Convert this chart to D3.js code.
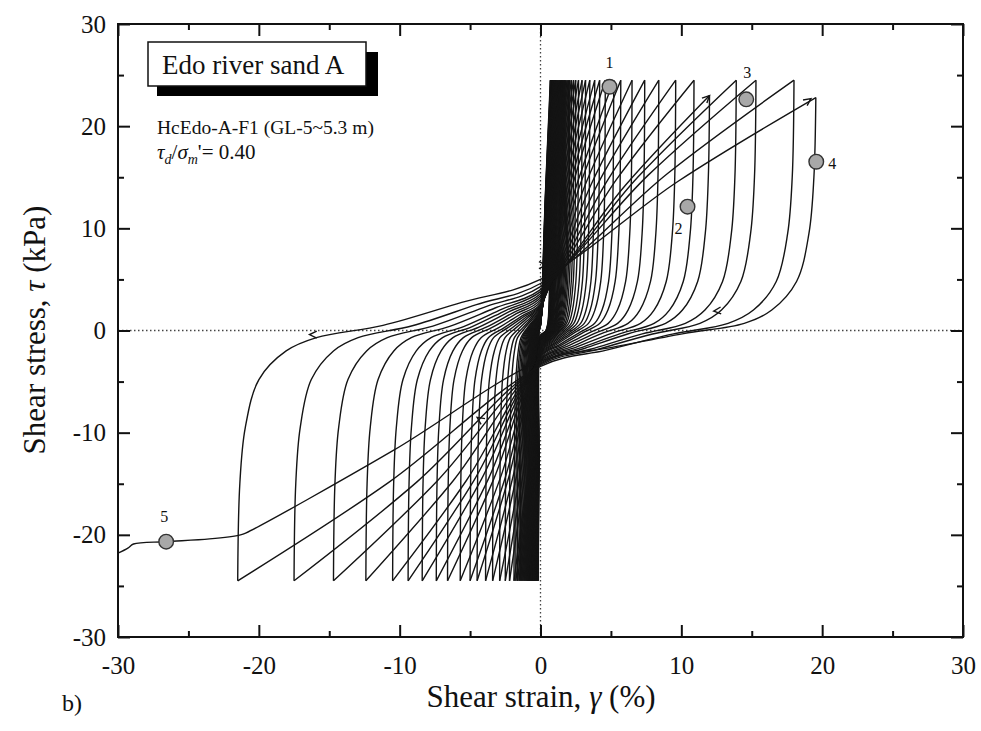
<!DOCTYPE html>
<html><head><meta charset="utf-8">
<script src="https://cdn.jsdelivr.net/npm/d3@7/dist/d3.min.js"></script>
<style>
body{margin:0;background:#fff}
svg{display:block}
</style>
</head><body>
<svg id="c" width="981" height="731"></svg>
<script>
// ---------- data ----------
const xTicks = [-30,-20,-10,0,10,20,30];
const yTicks = [-30,-20,-10,0,10,20,30];
const minorTicks = [-25,-15,-5,5,15,25];

// strain (%) at each negative stress peak, in loading order
const negPeaks = [-0.15,-0.18,-0.21,-0.24,-0.27,-0.30,-0.32,-0.34,-0.36,-0.38,
  -0.40,-0.42,-0.45,-0.48,-0.50,-0.53,-0.56,-0.60,-0.64,-0.68,
  -0.72,-0.76,-0.81,-0.86,-0.91,-0.97,-1.03,-1.10,-1.17,-1.25,-1.33,-1.42,-1.52,-1.63,-1.75,-1.88,
  -2.2,-2.5,-2.9,-3.4,-3.9,-4.5,-5.0,-5.7,-6.6,-7.4,
  -8.4,-9.4,-10.5,-12.4,-14.7,-17.5,-21.5];
const negPeakStress = [-24.5,-24.5,-24.5,-24.5,-24.5,-24.5,-24.5,-24.5,-24.5,-24.5,
  -24.5,-24.5,-24.5,-24.5,-24.5,-24.5,-24.5,-24.5,-24.5,-24.5,
  -24.5,-24.5,-24.5,-24.5,-24.5,-24.5,-24.5,-24.5,-24.5,-24.5,-24.5,-24.5,-24.5,-24.5,-24.5,-24.5,
  -24.5,-24.5,-24.5,-24.5,-24.5,-24.5,-24.5,-24.5,-24.5,-24.5,
  -24.5,-24.5,-24.5,-24.5,-24.5,-24.5,-24.5];
// strain (%) at each positive stress peak
const posPeaks = [0.70,0.72,0.74,0.76,0.78,0.80,0.82,0.84,0.86,0.88,
  0.90,0.92,0.95,0.98,1.01,1.05,1.09,1.14,1.20,1.27,
  1.33,1.38,1.44,1.50,1.57,1.64,1.72,1.80,1.89,1.98,2.08,2.2,2.35,2.5,2.7,2.95,
  3.2,3.5,3.85,4.2,4.6,5.2,5.7,6.5,7.4,8.4,
  9.6,10.9,12.0,13.9,15.3,18.0,19.55];
const posPeakStress = [24.5,24.5,24.5,24.5,24.5,24.5,24.5,24.5,24.5,24.5,
  24.5,24.5,24.5,24.5,24.5,24.5,24.5,24.5,24.5,24.5,
  24.5,24.5,24.5,24.5,24.5,24.5,24.5,24.5,24.5,24.5,24.5,24.5,24.5,24.5,24.5,24.5,
  24.5,24.5,24.5,24.5,24.5,24.5,24.5,24.5,24.5,24.5,
  24.5,24.5,23.0,24.5,24.5,24.5,22.8];
// stress where each branch crosses zero strain
const upCross = [0.5,0.5,0.5,0.5,0.6,0.6,0.6,0.6,0.7,0.7,
  0.7,0.7,0.8,0.8,0.8,0.9,0.9,0.9,1.0,1.0,
  1.0,1.1,1.1,1.2,1.2,1.3,1.3,1.4,1.4,1.5,1.5,1.6,1.7,1.7,1.8,1.9,
  2.0,2.1,2.2,2.3,2.4,2.5,2.6,2.8,3.0,3.2,
  3.4,3.6,3.8,4.0,4.3,4.6,5.0];
const dnCross = [-0.5,-0.5,-0.5,-0.5,-0.6,-0.6,-0.6,-0.6,-0.7,-0.7,
  -0.7,-0.7,-0.8,-0.8,-0.8,-0.9,-0.9,-0.9,-1.0,-1.0,
  -1.0,-1.1,-1.1,-1.2,-1.2,-1.3,-1.3,-1.4,-1.4,-1.5,-1.5,-1.6,-1.7,-1.7,-1.8,-1.9,
  -2.0,-2.1,-2.2,-2.3,-2.4,-2.5,-2.6,-2.7,-2.8,-2.9,
  -3.0,-3.1,-3.2,-3.3,-3.4,-3.5,-3.0];
// shape of an unloading branch (fraction of peak strain travelled back, stress level)
const bendFrac = [0.007,0.025,0.07,0.16,0.26];
const bendStress = [15,9.5,4.8,2.0,0.7];
const flatFrac = [0.48,0.74,1.0];
const flatShare = [0.1,0.55,1.0];
// final run-out branch
const finalRun = [[-20.9,-19.8],[-21.3,-20.0],[-23.5,-20.4],[-26.58,-20.67],[-28.9,-20.9],[-29.3,-21.3],[-30,-21.8]];
// numbered points
const markLabels = ["1","2","3","4","5"];
const markStrain = [4.90,10.44,14.61,19.58,-26.58];
const markStress = [23.86,12.12,22.63,16.52,-20.67];
// small direction arrows drawn on the curves
const arrowStrain = [19.2,12.0,-16.4,12.3,-4.5,0.4];
const arrowStress = [22.7,23.0,-0.4,1.9,-8.5,6.4];
const arrowAngle = [-36,-45,180,175,215,0];

// ---------- scales ----------
const FONT = '"Liberation Serif","Times New Roman",serif';
const svg = d3.select("#c");
const x = d3.scaleLinear().domain([-30,30]).range([118,963]);
const y = d3.scaleLinear().domain([-30,30]).range([637,24]);
const line = d3.line().x(d=>x(d[0])).y(d=>y(d[1])).curve(d3.curveCatmullRom.alpha(0.5));

// zero lines
svg.append("line").attr("x1",x(0)).attr("x2",x(0)).attr("y1",y(30)).attr("y2",y(-30))
  .attr("stroke","#444").attr("stroke-width",1.3).attr("stroke-dasharray","1.5,2.5");
svg.append("line").attr("x1",x(-30)).attr("x2",x(30)).attr("y1",y(0)).attr("y2",y(0))
  .attr("stroke","#444").attr("stroke-width",1.3).attr("stroke-dasharray","1.5,2.5");

// ---------- branches ----------
function diag(c, pk, pkS){
  return [[pk*0.5, c + 0.54*(pkS - c)],[pk, pkS]];
}
const branches = [];
for (let i=0;i<negPeaks.length;i++){
  const n = negPeaks[i], ns = negPeakStress[i], p = posPeaks[i], ps = posPeakStress[i];
  let c = upCross[i];
  let pts = [[n, ns]];
  bendFrac.forEach((f,k)=>pts.push([n - f*n, -bendStress[k]]));
  flatFrac.forEach((f,k)=>pts.push([n - f*n, flatShare[k]*c]));
  pts = pts.concat(diag(c, p, ps));
  branches.push(pts);
  c = dnCross[i];
  let q = [[p, ps]];
  bendFrac.forEach((f,k)=>q.push([p - f*p, bendStress[k]]));
  flatFrac.forEach((f,k)=>q.push([p - f*p, flatShare[k]*c]));
  if (i+1 < negPeaks.length){
    q = q.concat(diag(c, negPeaks[i+1], negPeakStress[i+1]));
    branches.push(q);
  } else {
    const f0 = finalRun[0];
    q.push([f0[0]*0.5, c + 0.52*(f0[1]-c)]);
    branches.push(q.concat(finalRun));
  }
}
svg.append("g").selectAll("path").data(branches).join("path")
  .attr("d", line).attr("fill","none").attr("stroke","#141414").attr("stroke-width",1.4);

// arrowheads
const ag = svg.append("g");
arrowStrain.forEach((s,i)=>{
  const a = arrowAngle[i]*Math.PI/180, L = 8, w = 0.45;
  const tx = x(s), ty = y(arrowStress[i]);
  const p1 = [tx - L*Math.cos(a-w), ty - L*Math.sin(a-w)];
  const p2 = [tx - L*Math.cos(a+w), ty - L*Math.sin(a+w)];
  ag.append("path").attr("d",`M${p1[0]},${p1[1]}L${tx},${ty}L${p2[0]},${p2[1]}`)
    .attr("fill","none").attr("stroke","#141414").attr("stroke-width",1.4);
});

// ---------- markers ----------
const mk = svg.append("g");
markLabels.forEach((lab,i)=>{
  mk.append("circle").attr("cx",x(markStrain[i])).attr("cy",y(markStress[i])).attr("r",7.3)
    .attr("fill","#a8a8a8").attr("stroke","#333").attr("stroke-width",1.4);
});
const lblOff = [[0,-19],[-9,27],[1,-21],[16,7],[-2,-20]];
markLabels.forEach((lab,i)=>{
  mk.append("text").attr("x",x(markStrain[i])+lblOff[i][0]).attr("y",y(markStress[i])+lblOff[i][1])
    .attr("text-anchor","middle").style("font-family",FONT).style("font-size","16px").attr("fill","#111").text(lab);
});

// ---------- axes ----------
const fmt = d => String(d);
function styleAxis(g){
  g.selectAll(".tick line").attr("stroke","#111").attr("stroke-width",2);
  g.selectAll("text").style("font-size","25px").style("font-family",FONT).attr("fill","#111");
  g.select(".domain").remove();
}
svg.append("g").attr("transform",`translate(0,${y(-30)})`)
  .call(d3.axisBottom(x).tickValues(xTicks).tickSizeInner(-12).tickSizeOuter(0).tickPadding(19).tickFormat(fmt)).call(styleAxis);
svg.append("g").attr("transform",`translate(0,${y(-30)})`)
  .call(d3.axisBottom(x).tickValues(minorTicks).tickSizeInner(-6).tickSizeOuter(0).tickFormat("")).call(styleAxis);
svg.append("g").attr("transform",`translate(0,${y(30)})`)
  .call(d3.axisTop(x).tickValues(xTicks).tickSizeInner(-12).tickSizeOuter(0).tickFormat("")).call(styleAxis);
svg.append("g").attr("transform",`translate(0,${y(30)})`)
  .call(d3.axisTop(x).tickValues(minorTicks).tickSizeInner(-6).tickSizeOuter(0).tickFormat("")).call(styleAxis);
svg.append("g").attr("transform",`translate(${x(-30)},0)`)
  .call(d3.axisLeft(y).tickValues(yTicks).tickSizeInner(-12).tickSizeOuter(0).tickPadding(12).tickFormat(fmt)).call(styleAxis);
svg.append("g").attr("transform",`translate(${x(-30)},0)`)
  .call(d3.axisLeft(y).tickValues(minorTicks).tickSizeInner(-6).tickSizeOuter(0).tickFormat("")).call(styleAxis);
svg.append("g").attr("transform",`translate(${x(30)},0)`)
  .call(d3.axisRight(y).tickValues(yTicks).tickSizeInner(-12).tickSizeOuter(0).tickFormat("")).call(styleAxis);
svg.append("g").attr("transform",`translate(${x(30)},0)`)
  .call(d3.axisRight(y).tickValues(minorTicks).tickSizeInner(-6).tickSizeOuter(0).tickFormat("")).call(styleAxis);
svg.append("rect").attr("x",x(-30)).attr("y",y(30)).attr("width",x(30)-x(-30)).attr("height",y(-30)-y(30))
  .attr("fill","none").attr("stroke","#111").attr("stroke-width",2);

// axis titles
function T(sel){ return sel.style("font-family",FONT).attr("fill","#111"); }
const xt = T(svg.append("text")).attr("x",541).attr("y",707).attr("text-anchor","middle").style("font-size","31px");
xt.append("tspan").text("Shear strain, ");
xt.append("tspan").style("font-style","italic").text("γ");
xt.append("tspan").text(" (%)");
const yt = T(svg.append("text")).attr("transform","translate(45,330) rotate(-90)").attr("text-anchor","middle").style("font-size","31px");
yt.append("tspan").text("Shear stress, ");
yt.append("tspan").style("font-style","italic").text("τ");
yt.append("tspan").text(" (kPa)");
T(svg.append("text")).attr("x",62).attr("y",711).style("font-size","24px").text("b)");

// legend box
svg.append("rect").attr("x",157).attr("y",52).attr("width",221).attr("height",44).attr("fill","#000");
svg.append("rect").attr("x",148).attr("y",42).attr("width",218).attr("height",44).attr("fill","#fff").attr("stroke","#111").attr("stroke-width",1.5);
T(svg.append("text")).attr("x",162).attr("y",74).style("font-size","27px").text("Edo river sand A");
T(svg.append("text")).attr("x",157).attr("y",134).style("font-size","19.5px").text("HcEdo-A-F1 (GL-5~5.3 m)");
const rt = T(svg.append("text")).attr("x",157).attr("y",159).style("font-size","21px");
rt.append("tspan").style("font-style","italic").text("τ");
rt.append("tspan").style("font-style","italic").style("font-size","14px").attr("dy",5).text("d");
rt.append("tspan").attr("dy",-5).text("/");
rt.append("tspan").style("font-style","italic").text("σ");
rt.append("tspan").style("font-style","italic").style("font-size","14px").attr("dy",5).text("m");
rt.append("tspan").attr("dy",-5).text("'= 0.40");
</script>
</body></html>
